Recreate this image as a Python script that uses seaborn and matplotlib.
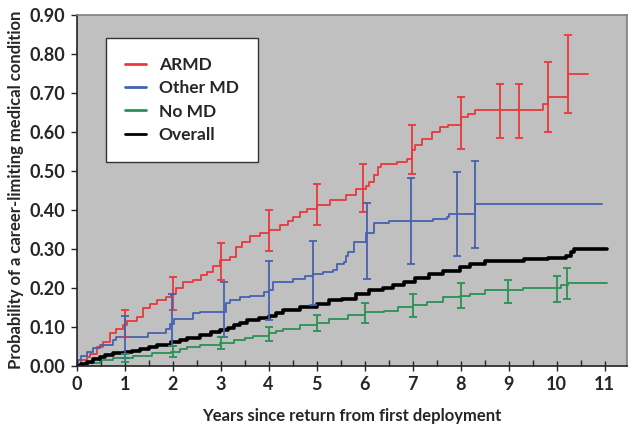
import numpy as np
import pandas as pd
import matplotlib.pyplot as plt
import seaborn as sns
from matplotlib.ticker import MultipleLocator, FormatStrFormatter

sns.set_theme(style="ticks")
plt.rcParams['font.family'] = ['Lato', 'DejaVu Sans']
plt.rcParams['font.weight'] = 'bold'

# Kaplan-Meier style cumulative probability curves
armd_t = [0, 0.10, 0.21, 0.28, 0.42, 0.56, 0.69, 0.83, 0.97, 1.04, 1.25, 1.39, 1.52, 1.67, 1.87,
          1.97, 2.08, 2.22, 2.43, 2.60, 2.71, 2.85, 2.99, 3.20, 3.33, 3.45, 3.61, 3.82, 4.01, 4.24,
          4.40, 4.51, 4.65, 4.79, 5.00, 5.28, 5.62, 5.83, 6.02, 6.10, 6.20, 6.28, 6.35, 6.67, 6.88,
          6.98, 7.05, 7.20, 7.40, 7.57, 7.74, 8.01, 8.15, 8.30, 9.72, 9.83, 10.24, 10.66]
armd_p = [0, 0.015, 0.023, 0.030, 0.049, 0.061, 0.083, 0.095, 0.104, 0.115, 0.125, 0.147, 0.158, 0.168, 0.176,
          0.183, 0.198, 0.215, 0.221, 0.232, 0.240, 0.255, 0.270, 0.279, 0.305, 0.318, 0.333, 0.340, 0.347, 0.360,
          0.372, 0.380, 0.394, 0.402, 0.411, 0.424, 0.437, 0.452, 0.460, 0.470, 0.490, 0.510, 0.518, 0.522, 0.531,
          0.552, 0.565, 0.580, 0.599, 0.612, 0.616, 0.637, 0.645, 0.655, 0.672, 0.689, 0.749, 0.749]

other_t = [0, 0.03, 0.10, 0.21, 0.35, 0.49, 0.76, 0.83, 1.48, 1.87, 1.95, 2.03, 2.43, 2.57, 3.12,
           3.20, 3.41, 3.62, 3.90, 4.00, 4.10, 4.51, 4.75, 4.93, 5.14, 5.35, 5.42, 5.56, 5.62, 5.66,
           5.77, 6.02, 6.20, 6.51, 7.43, 7.71, 7.75, 8.30, 10.94]
other_p = [0, 0.015, 0.025, 0.036, 0.045, 0.053, 0.066, 0.074, 0.083, 0.095, 0.107, 0.121, 0.134, 0.138, 0.160,
           0.168, 0.176, 0.180, 0.190, 0.194, 0.215, 0.223, 0.230, 0.236, 0.241, 0.245, 0.262, 0.266, 0.280, 0.291,
           0.317, 0.339, 0.365, 0.372, 0.377, 0.381, 0.388, 0.414, 0.414]

nomd_t = [0, 0.21, 0.49, 0.76, 1.17, 1.58, 1.97, 2.15, 2.29, 2.57, 2.99, 3.27, 3.50, 3.68, 4.00,
          4.15, 4.30, 4.65, 5.00, 5.25, 5.66, 6.00, 6.41, 6.69, 7.00, 7.30, 7.64, 7.99, 8.19, 8.50,
          9.30, 10.10, 10.24, 11.04]
nomd_p = [0, 0.006, 0.015, 0.019, 0.026, 0.032, 0.036, 0.043, 0.049, 0.053, 0.059, 0.066, 0.071, 0.076, 0.083,
          0.090, 0.095, 0.104, 0.110, 0.121, 0.130, 0.138, 0.140, 0.151, 0.155, 0.164, 0.175, 0.178, 0.184, 0.194,
          0.198, 0.207, 0.211, 0.211]

overall_t = [0, 0.10, 0.21, 0.35, 0.49, 0.60, 0.76, 1.00, 1.15, 1.31, 1.50, 1.67, 1.97, 2.15, 2.29,
             2.57, 2.80, 2.99, 3.15, 3.27, 3.40, 3.55, 3.80, 4.00, 4.15, 4.30, 4.65, 5.00, 5.25, 5.53,
             5.82, 6.10, 6.39, 6.60, 6.81, 7.05, 7.35, 7.64, 7.98, 8.19, 8.50, 9.33, 9.81, 10.19, 10.29,
             10.36, 11.04]
overall_p = [0, 0.005, 0.010, 0.017, 0.023, 0.027, 0.032, 0.036, 0.038, 0.042, 0.047, 0.053, 0.061, 0.065, 0.070,
             0.078, 0.086, 0.091, 0.097, 0.104, 0.110, 0.117, 0.122, 0.127, 0.135, 0.142, 0.150, 0.158, 0.168, 0.172,
             0.185, 0.194, 0.200, 0.208, 0.215, 0.224, 0.235, 0.243, 0.253, 0.262, 0.268, 0.273, 0.277, 0.281, 0.292,
             0.300, 0.300]

# 95% confidence intervals
armd_ci_t = [1, 2, 3, 4, 5, 5.97, 6.98, 8.01, 8.82, 9.21, 9.83, 10.24]
armd_ci_lo = [0.074, 0.143, 0.219, 0.295, 0.360, 0.393, 0.491, 0.556, 0.584, 0.584, 0.599, 0.648]
armd_ci_hi = [0.143, 0.228, 0.315, 0.400, 0.467, 0.518, 0.618, 0.690, 0.723, 0.723, 0.778, 0.848]

other_ci_t = [1, 1.98, 3.08, 4, 4.93, 6.04, 6.97, 7.92, 8.30]
other_ci_lo = [0.020, 0.050, 0.074, 0.117, 0.155, 0.222, 0.262, 0.281, 0.303]
other_ci_hi = [0.127, 0.185, 0.215, 0.268, 0.320, 0.417, 0.482, 0.496, 0.525]

nomd_ci_t = [1, 2, 3, 4, 5, 6, 7, 8, 8.99, 10.0, 10.21]
nomd_ci_lo = [0.009, 0.023, 0.044, 0.064, 0.089, 0.109, 0.125, 0.147, 0.160, 0.164, 0.172]
nomd_ci_hi = [0.030, 0.051, 0.074, 0.100, 0.130, 0.161, 0.185, 0.213, 0.221, 0.230, 0.251]

red, blue, green = '#e8383d', '#4462b0', '#2a9155'
txt_col = '#262626'

fig = plt.figure(figsize=(6.28, 4.25), dpi=100)
ax = fig.add_axes([0.122, 0.1395, 0.876, 0.826])
ax.set_facecolor('#c0c0c0')

curves = [
    ('ARMD', armd_t, armd_p, red, 1.3),
    ('Other MD', other_t, other_p, blue, 1.3),
    ('No MD', nomd_t, nomd_p, green, 1.3),
    ('Overall', overall_t, overall_p, 'black', 2.6),
]
for name, t, p, col, lw in curves:
    sns.lineplot(x=t, y=p, ax=ax, color=col, linewidth=lw, drawstyle='steps-post',
                 estimator=None, sort=False, label=name)

for t, lo, hi, col in [(armd_ci_t, armd_ci_lo, armd_ci_hi, red),
                       (other_ci_t, other_ci_lo, other_ci_hi, blue),
                       (nomd_ci_t, nomd_ci_lo, nomd_ci_hi, green)]:
    lo = np.array(lo)
    hi = np.array(hi)
    mid = (lo + hi) / 2
    ax.errorbar(t, mid, yerr=[mid - lo, hi - mid], fmt='none', ecolor=col,
                elinewidth=1.3, capsize=3, capthick=1.3)

ax.set_xlim(0, 11.46)
ax.set_ylim(0, 0.9)
ax.xaxis.set_major_locator(MultipleLocator(1))
ax.xaxis.set_minor_locator(MultipleLocator(0.5))
ax.yaxis.set_major_locator(MultipleLocator(0.1))
ax.yaxis.set_major_formatter(FormatStrFormatter('%.2f'))
ax.tick_params(axis='x', which='major', direction='inout', length=7, width=1, labelsize=13, pad=4)
ax.tick_params(axis='x', which='minor', direction='in', length=4, width=1)
ax.tick_params(axis='y', which='major', direction='out', length=4, width=1, labelsize=13, pad=4)
for lab in ax.get_xticklabels() + ax.get_yticklabels():
    lab.set_fontweight('bold')
    lab.set_color(txt_col)

for s in ['left', 'bottom']:
    ax.spines[s].set_color('#222222')
    ax.spines[s].set_linewidth(1.2)
for s in ['top', 'right']:
    ax.spines[s].set_color('#7f7f7f')
    ax.spines[s].set_linewidth(1.2)

ax.set_xlabel('Years since return from first deployment', fontsize=12, fontweight='bold',
              color=txt_col, labelpad=11)
ax.set_ylabel('Probability of a career-limiting medical condition', fontsize=12, fontweight='bold',
              color=txt_col, labelpad=4)

leg = ax.legend(loc='upper left', bbox_to_anchor=(0.053, 0.934), borderaxespad=0,
                fancybox=False, framealpha=1, edgecolor='#333333', handlelength=1.2,
                handletextpad=0.75, labelspacing=0.42, borderpad=1.1,
                prop={'weight': 'bold', 'size': 12.5})
leg.get_frame().set_linewidth(1.0)
for line in leg.get_lines():
    line.set_linewidth(2)
for txt in leg.get_texts():
    txt.set_color(txt_col)

plt.savefig('out.png', dpi=100)
